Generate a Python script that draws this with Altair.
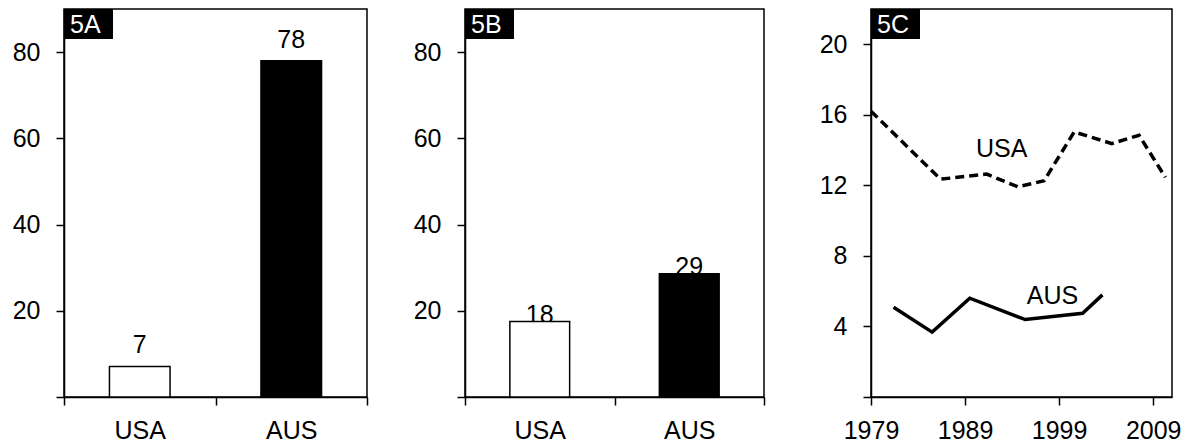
import altair as alt
import pandas as pd

FONT = "Liberation Sans"

# ---- data ----
countries = ["USA", "AUS"]
fills = ["white", "black"]
values_5a = [7.1, 78]
labels_5a = ["7", "78"]
values_5b = [17.5, 28.6]
labels_5b = ["18", "29"]

usa_years = [1979, 1986.4, 1991.3, 1994.6, 1997.4, 2000.6, 2004.6, 2007.5, 2010.3]
usa_values = [16.2, 12.35, 12.64, 11.92, 12.26, 15.03, 14.37, 14.84, 12.45]
aus_years = [1981.4, 1985.5, 1989.5, 1995.4, 2001.5, 2003.6]
aus_values = [5.09, 3.68, 5.60, 4.39, 4.75, 5.79]

line_label_text = ["USA", "AUS"]
line_label_years = [1992.9, 1998.3]
line_label_values = [14.05, 5.75]

panel_names = ["5A", "5B", "5C"]
bar_ticks = [0, 20, 40, 60, 80]
line_yticks = [0, 4, 8, 12, 16, 20]
line_xticks = [1979, 1989, 1999, 2009]

HIDE_ZERO = "datum.value == 0 ? '' : datum.label"


def tag_layers(name):
    tdf = pd.DataFrame({"tag": [name]})
    box = alt.Chart(tdf).mark_rect(color="black").encode(
        x=alt.value(0), x2=alt.value(49), y=alt.value(0), y2=alt.value(30)
    )
    txt = alt.Chart(tdf).mark_text(
        color="white", fontSize=25, font=FONT, align="left", baseline="middle"
    ).encode(x=alt.value(6), y=alt.value(16), text="tag:N")
    return [box, txt]


def bar_panel(vals, labs, name, width, min_ext, label_dy, text_under):
    df = pd.DataFrame({"country": countries, "value": vals, "label": labs, "fill": fills})
    x = alt.X(
        "country:N", sort=countries, title=None,
        scale=alt.Scale(paddingInner=0, paddingOuter=0),
        axis=alt.Axis(labelAngle=0, tickBand="extent"),
    )
    y = alt.Y(
        "value:Q", title=None, scale=alt.Scale(domain=[0, 90], nice=False),
        axis=alt.Axis(values=bar_ticks, labelExpr=HIDE_ZERO, minExtent=min_ext),
    )
    bars = alt.Chart(df).mark_bar(
        width=alt.RelativeBandSize(0.4), stroke="black", strokeWidth=1.5
    ).encode(x=x, y=y, fill=alt.Fill("fill:N", scale=None))
    text = alt.Chart(df).mark_text(
        baseline="alphabetic", dy=label_dy, fontSize=25, font=FONT, color="black"
    ).encode(x=x, y=y, text="label:N")
    layers = [text, bars] if text_under else [bars, text]
    return alt.layer(*layers, *tag_layers(name)).properties(width=width, height=388)


panel_a = bar_panel(values_5a, labels_5a, panel_names[0], 303, 55, -13, False)
panel_b = bar_panel(values_5b, labels_5b, panel_names[1], 299, 55, 1, True)

usa_df = pd.DataFrame({"year": usa_years, "value": usa_values})
aus_df = pd.DataFrame({"year": aus_years, "value": aus_values})
lab_df = pd.DataFrame({"year": line_label_years, "value": line_label_values, "text": line_label_text})

xc = alt.X(
    "year:Q", title=None, scale=alt.Scale(domain=[1979, 2011], nice=False, zero=False),
    axis=alt.Axis(values=line_xticks, format="d", labelFlush=False, labelOverlap=False, labelBound=False),
)
yc = alt.Y(
    "value:Q", title=None, scale=alt.Scale(domain=[0, 22], nice=False),
    axis=alt.Axis(values=line_yticks, labelExpr=HIDE_ZERO, minExtent=64),
)
usa_line = alt.Chart(usa_df).mark_line(
    color="black", strokeWidth=3.5, strokeDash=[9, 5]
).encode(x=xc, y=yc, order="year:Q")
aus_line = alt.Chart(aus_df).mark_line(color="black", strokeWidth=3.5).encode(
    x=xc, y=yc, order="year:Q"
)
line_labels = alt.Chart(lab_df).mark_text(
    fontSize=25, font=FONT, color="black", baseline="middle", align="center"
).encode(x=xc, y=yc, text="text:N")

panel_c = alt.layer(usa_line, aus_line, line_labels, *tag_layers(panel_names[2])).properties(
    width=301, height=388
)

chart = (
    alt.hconcat(panel_a, panel_b, panel_c, spacing=40)
    .properties(padding={"left": 0, "top": 0, "right": 0, "bottom": 0})
    .configure_view(stroke="black", strokeWidth=1.5)
    .configure_axis(
        domainColor="black", domainWidth=1.5, tickColor="black", tickWidth=1.5,
        tickSize=8, labelFont=FONT, labelFontSize=25, labelColor="black", grid=False,
    )
    .configure_axisX(labelPadding=13)
    .configure_axisY(labelPadding=16)
)

chart.save("out.html", embed_options={"renderer": "svg", "actions": False})
